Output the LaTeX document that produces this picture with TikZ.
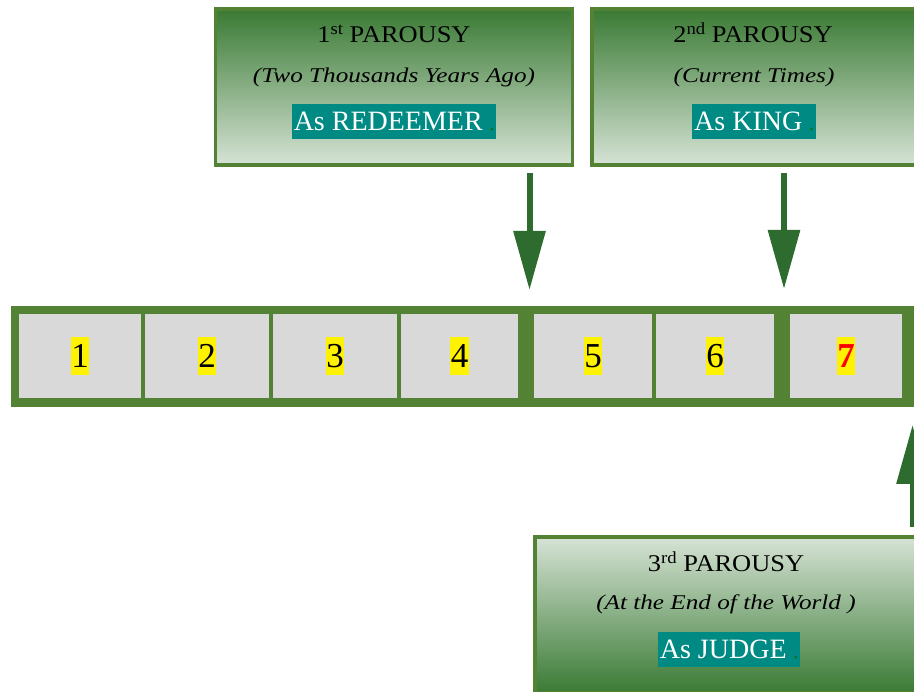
\documentclass[tikz,border=0pt]{standalone}
\usepackage{fontspec}
\setmainfont{Liberation Serif}
\newfontfamily\titlefont{Liberation Serif}[FakeStretch=1.1]
\newfontfamily\subfont{Liberation Serif}[FakeStretch=1.2]
\usetikzlibrary{arrows.meta}
\definecolor{gborder}{RGB}{84,130,53}
\definecolor{gdark}{RGB}{58,122,52}
\definecolor{glight}{RGB}{214,227,213}
\definecolor{agreen}{RGB}{46,107,46}
\definecolor{tealc}{RGB}{0,138,132}
\definecolor{cellgray}{RGB}{217,217,217}
\definecolor{dotgreen}{RGB}{0,110,0}
\newcommand{\supx}[1]{\raisebox{0.36em}{\fontsize{17}{17}\selectfont #1}}
\newcommand{\gdot}{{\color{dotgreen}\fontsize{18}{18}\selectfont .}}
\begin{document}
\begin{tikzpicture}[x=1pt,y=-1pt,
  panel/.style={draw=gborder, line width=3.5pt, inner sep=0pt, minimum height=156pt},
  panelA/.style={panel, top color=gdark, bottom color=glight},
  panelB/.style={panel, top color=glight, bottom color=gdark},
  cell/.style={fill=cellgray, inner sep=0pt, minimum height=84pt},
  num/.style={fill=yellow, inner xsep=0.3pt, inner ysep=7pt, text height=24pt, text depth=0pt, font=\fontsize{35}{35}\selectfont},
  title/.style={anchor=base, font=\titlefont\fontsize{24}{24}\selectfont},
  sub/.style={anchor=base, font=\subfont\itshape\fontsize{21}{21}\selectfont},
  tealbox/.style={anchor=base, fill=tealc, text=white, inner xsep=2pt, inner ysep=0pt, text height=26.5pt, text depth=8.5pt, font=\fontsize{28}{28}\selectfont},
  bigarrow/.style={draw=agreen, line width=6pt, -{Triangle[width=31pt,length=59pt]}}
]
\useasboundingbox (0,0) rectangle (914,692);
\clip (0,0) rectangle (914,692);

% panels
\node[panelA, minimum width=357pt] (box1) at (394,87) {};
\node[panelA, minimum width=324pt] (box2) at (754,87) {};
\node[panelB, minimum width=382pt] (box3) at (726,615) {};

% panel texts
\node[title] (t1) at (394,43) {1\supx{st} PAROUSY};
\node[sub] (s1) at (394,82.5) {(Two Thousands Years Ago)};
\node[tealbox] (r1) at (394,130.5) {As REDEEMER \gdot};

\node[title] (t2) at (753,43) {2\supx{nd} PAROUSY};
\node[sub] (s2) at (754,82.5) {(Current Times)};
\node[tealbox] (r2) at (754,130.5) {As KING \gdot};

\node[title] (t3) at (726,572) {3\supx{rd} PAROUSY};
\node[sub] (s3) at (726,610) {(At the End of the World )};
\node[tealbox] (r3) at (729,658.5) {As JUDGE \gdot};

% timeline bar
\node[fill=gborder, inner sep=0pt, minimum width=905pt, minimum height=101pt] (bar) at (463.5,356.5) {};
\node[cell, minimum width=122pt] (c1) at (80,356) {};
\node[cell, minimum width=124pt] (c2) at (207,356) {};
\node[cell, minimum width=124pt] (c3) at (335,356) {};
\node[cell, minimum width=117pt] (c4) at (459.5,356) {};
\node[cell, minimum width=118pt] (c5) at (593,356) {};
\node[cell, minimum width=118pt] (c6) at (715,356) {};
\node[cell, minimum width=112pt] (c7) at (846,356) {};

\node[num] (n1) at (c1.center) {1};
\node[num] (n2) at (c2.center) {2};
\node[num] (n3) at (c3.center) {3};
\node[num] (n4) at (c4.center) {4};
\node[num] (n5) at (c5.center) {5};
\node[num] (n6) at (c6.center) {6};
\node[num, text=red, font=\bfseries\fontsize{35}{35}\selectfont] (n7) at (c7.center) {7};

% arrows
\coordinate (a1s) at (529.5,173);
\coordinate (a1e) at (529.5,290);
\coordinate (a2s) at (784,173);
\coordinate (a2e) at (784,289);
\coordinate (a3s) at (912.5,527);
\coordinate (a3e) at (912.5,425);
\draw[bigarrow] (a1s) -- (a1e);
\draw[bigarrow] (a2s) -- (a2e);
\draw[bigarrow] (a3s) -- (a3e);
\end{tikzpicture}
\end{document}
